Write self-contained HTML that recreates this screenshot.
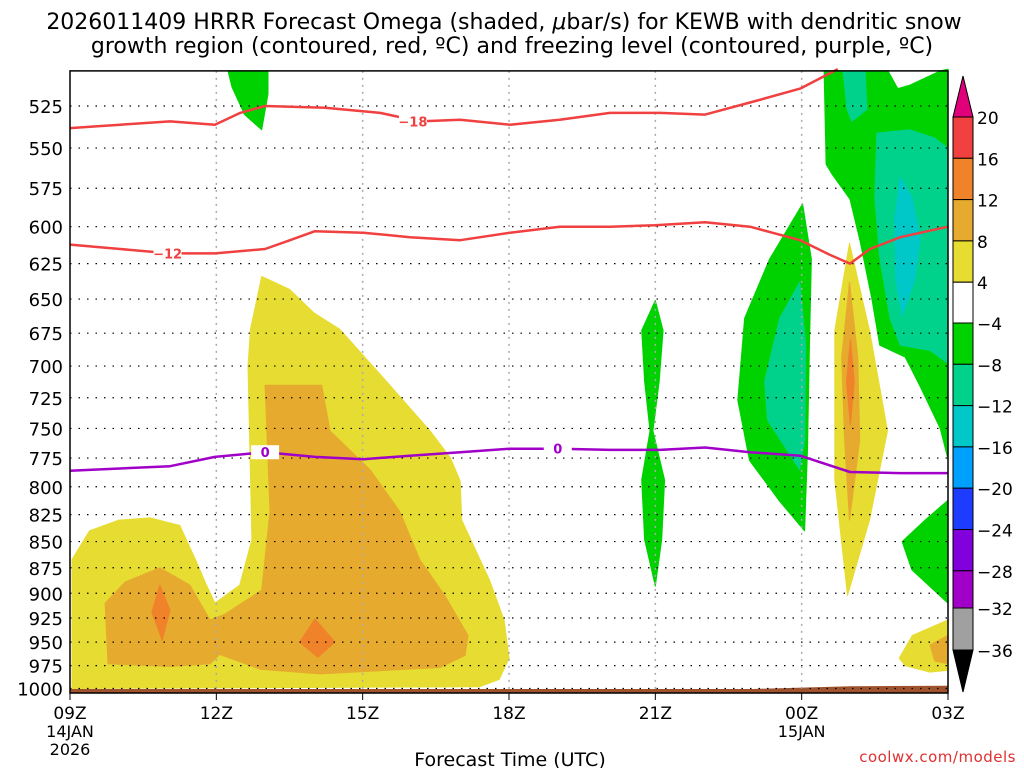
<!DOCTYPE html>
<html><head><meta charset="utf-8"><style>
body{margin:0;background:#fff;}
svg{display:block;font-family:"DejaVu Sans","Liberation Sans",sans-serif;}
</style></head><body>
<svg id="c" width="1024" height="768" xmlns="http://www.w3.org/2000/svg">
<text x="504" y="29" text-anchor="middle" font-size="22">2026011409 HRRR Forecast Omega (shaded, <tspan font-style="italic">μ</tspan>bar/s) for KEWB with dendritic snow</text>
<text x="512" y="53" text-anchor="middle" font-size="22">growth region (contoured, red, ºC) and freezing level (contoured, purple, ºC)</text>
<g id="fills"></g><g id="grid"></g><g id="lines"></g><g id="axes"></g><g id="cbar"></g>
<text x="510" y="766" text-anchor="middle" font-size="19">Forecast Time (UTC)</text>
<text x="1016" y="762" text-anchor="end" font-size="15" fill="#e03030" letter-spacing="0.5">coolwx.com/models</text>
</svg>
<script>
const pLevels=[525,550,575,600,625,650,675,700,725,750,775,800,825,850,875,900,925,950,975,1000];
const xTickHours=[0,3,6,9,12,15,18];
const xTickLabels=["09Z","12Z","15Z","18Z","21Z","00Z","03Z"];
const cbLevels=[20,16,12,8,4,-4,-8,-12,-16,-20,-24,-28,-32,-36];
const cbColors=["#f04040","#f0822a","#e6aa2e","#e6dc32","#ffffff","#00d200","#00d28c","#00c8c8","#00a0ff","#1e3cff","#8200dc","#a000c8","#a0a0a0"];
const yellowLeft=[[0.04,1000],[0.04,867],[0.4,840],[1.0,830],[1.64,828],[2.25,835],[2.6,870],[2.77,889],[2.97,910],[3.48,892],[3.73,848],[3.65,700],[3.7,672],[3.93,634],[4.5,643],[5.0,660],[5.53,672],[6.35,706],[7.38,752],[7.8,775],[8,795],[8.03,830],[8.6,887],[8.9,927],[9.0,967],[8.8,990],[8.4,998]];
const orangeLeft=[[0.78,973],[0.72,910],[1.13,889],[1.84,875],[2.46,892],[2.87,927],[3.18,921],[3.93,897],[4.1,822],[4.0,715],[5.16,715],[5.33,752],[6.15,785],[6.76,822],[7.17,867],[7.68,902],[8.16,943],[8.1,964],[7.58,977],[5.12,984],[3.9,979],[3.07,963],[2.87,973],[2.05,976]];
const redSpot1=[[1.84,892],[2.05,917],[1.89,948],[1.68,919]];
const redSpot2=[[5.02,926],[5.43,950],[5.08,966],[4.71,950]];
const greenTop=[[3.24,505],[4.06,505],[4.06,518],[3.93,539],[3.58,530],[3.32,514]];
const green21=[[12,651],[12.16,673],[12.08,712],[11.95,752],[12.19,794],[12.13,848],[12,893],[11.78,848],[11.72,794],[11.89,752],[11.78,712],[11.72,673]];
const greenMid=[[15.02,585],[15.2,622],[15.16,683],[15.12,768],[15.06,840],[14.55,813],[13.93,777],[13.69,727],[13.83,664],[14.34,622]];
const tealMid=[[14.96,638],[15.08,683],[15.06,760],[14.96,785],[14.3,743],[14.24,712],[14.55,664]];
const yellow01=[[15.98,611],[16.39,673],[16.76,752],[16.39,830],[15.94,902],[15.68,794],[15.68,673]];
const orange01=[[15.98,638],[16.15,693],[16.19,760],[15.98,830],[15.88,760],[15.82,693]];
const red01=[[16.0,680],[16.08,712],[16.0,747],[15.92,712]];
const greenRight=[[15.46,505],[16.77,505],[16.97,515],[17.22,513],[17.84,505],[18,504],[18,776],[17.84,750],[17.43,716],[17.12,693],[16.6,684],[16.44,650],[16.2,610],[15.99,582],[15.62,566],[15.5,560]];
const tealRightTop=[[15.85,505],[16.3,505],[16.34,527],[16.03,534],[15.93,527]];
const tealRight=[[16.54,541],[16.5,581],[16.6,621],[16.81,664],[17.02,684],[17.63,688],[18,698],[18,550],[17.73,544],[17.22,539]];
const cyanRight=[[17.02,568],[17.26,581],[17.43,607],[17.32,636],[17.06,662],[16.93,636],[16.91,595]];
const greenLow=[[18,812],[17.53,830],[17.06,850],[17.26,877],[18,910]];
const yellowBR=[[17.0,967],[17.27,943],[18,927],[18,980],[17.63,982],[17.12,975]];
const orangeBR=[[17.63,953],[18,943],[18,973],[17.73,970]];
const surfHours=[0,3,6,9,12,14,15,16,18];
const surfP=[1000.5,1000.5,1000.5,1000.5,1000.5,1000.5,999,997.5,997];
const red18H=[0,1.03,2.05,2.97,3.49,4,5.23,6.36,7.17,8,9.02,10.04,11.07,12.1,13.02,13.94,14.97,15.74];
const red18P=[538,536,534,536,529,525,526,529,534,533,536,533,529,529,530,523,515,504];
const red12H=[0,1.03,2.05,2.97,4,4.51,5.02,6.01,6.97,8,9.02,10.04,11.07,11.99,13.02,13.94,14.97,15.58,15.99,16.4,17.02,18];
const red12P=[612,615,618,618,615,609,603,604,607,609,604,600,600,599,597,600,609,619,625,615,607,600];
const frzH=[0,2.05,2.97,4,5.02,6.01,6.97,8,9.02,10.04,11.07,12.1,13.02,13.94,14.97,15.99,17.02,18];
const frzP=[786,782,774,770,774,776,773,770,767,767,768,768,766,770,773,787,788,788];

const NS="http://www.w3.org/2000/svg";
const X0=70,X1=948,PT=505,PB=1005,Y106=106,K=904;
const xs=h=>X0+(X1-X0)*h/18;
const ys=p=>Y106+K*Math.log(p/525);
function el(tag,attrs,parent){const e=document.createElementNS(NS,tag);for(const k in attrs)e.setAttribute(k,attrs[k]);parent.appendChild(e);return e;}
const fills=document.getElementById('fills'),grid=document.getElementById('grid'),lines=document.getElementById('lines'),axes=document.getElementById('axes'),cbar=document.getElementById('cbar');
function poly(pts,color,name){const e=el('polygon',{points:pts.map(q=>xs(q[0]).toFixed(1)+','+ys(q[1]).toFixed(1)).join(' '),fill:color,stroke:color,'stroke-width':1,'stroke-linejoin':'round'},fills);

}
poly(yellowLeft,'#e6dc32','omega-pos4-left');
poly(orangeLeft,'#e6aa2e','omega-pos8-left');
poly(redSpot1,'#f0822a','omega-pos12-spot1');
poly(redSpot2,'#f0822a','omega-pos12-spot2');
poly(greenTop,'#00d200','omega-neg4-top');
poly(green21,'#00d200','omega-neg4-21z');
poly(greenMid,'#00d200','omega-neg4-mid');
poly(tealMid,'#00d28c','omega-neg8-mid');
poly(yellow01,'#e6dc32','omega-pos4-01z');
poly(orange01,'#e6aa2e','omega-pos8-01z');
poly(red01,'#f0822a','omega-pos12-01z');
poly(greenRight,'#00d200','omega-neg4-right');
poly(tealRightTop,'#00d28c','omega-neg8-right-top');
poly(tealRight,'#00d28c','omega-neg8-right');
poly(cyanRight,'#00c8c8','omega-neg12-right');
poly(greenLow,'#00d200','omega-neg4-low');
poly(yellowBR,'#e6dc32','omega-pos4-bottom-right');
poly(orangeBR,'#e6aa2e','omega-pos8-bottom-right');
{const pts=surfHours.map((h,i)=>xs(h)+','+ys(surfP[i]));pts.push(X1+','+ys(PB),X0+','+ys(PB));
const g=el('polygon',{points:pts.join(' '),fill:'#a0522d'},fills);

}
pLevels.forEach(p=>{const l=el('line',{x1:X0,x2:X1,y1:ys(p),y2:ys(p),stroke:'#000','stroke-width':1.2,'stroke-dasharray':'1.5 7'},grid);


const t=el('text',{x:63,y:ys(p)+7,'text-anchor':'end','font-size':18},axes);t.textContent=p;

});
xTickHours.forEach((h,i)=>{if(h>0&&h<18){const l=el('line',{x1:xs(h),x2:xs(h),y1:ys(PT),y2:ys(PB),stroke:'#aaa','stroke-width':1.5,'stroke-dasharray':'2 5'},grid);

}
el('line',{x1:xs(h),x2:xs(h),y1:ys(PB),y2:ys(PB)+7,stroke:'#000'},axes);
const t=el('text',{x:xs(h),y:719,'text-anchor':'middle','font-size':17},axes);t.textContent=xTickLabels[i];

});
[["14JAN",xs(0),737],["2026",xs(0),755],["15JAN",xs(15),737]].forEach(d=>{const t=el('text',{x:d[1],y:d[2],'text-anchor':'middle','font-size':16},axes);t.textContent=d[0];

});
function line(H,P,color,name){const e=el('polyline',{points:H.map((h,i)=>xs(h).toFixed(1)+','+ys(P[i]).toFixed(1)).join(' '),fill:'none',stroke:color,'stroke-width':2.5,'stroke-linejoin':'round'},lines);

}
line(red18H,red18P,'#f04040','contour-minus18');
line(red12H,red12P,'#f04040','contour-minus12');
line(frzH,frzP,'#a000c8','freezing-level');
function lab(h,p,txt,color,name){el('rect',{x:xs(h)-14,y:ys(p)-7,width:28,height:14,fill:'#fff'},lines);
const t=el('text',{x:xs(h),y:ys(p)+5,'text-anchor':'middle','font-size':13,'font-weight':'bold',fill:color},lines);t.textContent=txt;

}
lab(7.03,534,'−18','#f04040','label-minus18');
lab(2.0,618,'−12','#f04040','label-minus12');
lab(4.0,770,'0','#a000c8','label-freezing-1');
lab(10.0,767,'0','#a000c8','label-freezing-2');
{const f=el('rect',{x:X0,y:ys(PT),width:X1-X0,height:ys(PB)-ys(PT),fill:'none',stroke:'#000','stroke-width':1.5},axes);

}
const CB0=953,CBW=20;
const cbY=cbLevels.map((v,i)=>i<=4?117+i*41.3:(i<=11?323+(i-5)*41.3:(i==12?608:650)));
for(let i=0;i<cbColors.length;i++){const r=el('rect',{x:CB0,y:cbY[i],width:CBW,height:cbY[i+1]-cbY[i],fill:cbColors[i],stroke:'#000','stroke-width':1},cbar);

}
cbLevels.forEach((v,i)=>{const t=el('text',{x:977,y:cbY[i]+7,'font-size':17},cbar);t.textContent=v<0?'−'+(-v):v;

});
{const a=el('polygon',{points:`${CB0},117 ${CB0+CBW},117 ${CB0+CBW/2},76`,fill:'#e0007a',stroke:'#000'},cbar);


const b=el('polygon',{points:`${CB0},650 ${CB0+CBW},650 ${CB0+CBW/2},692`,fill:'#000',stroke:'#000'},cbar);

}
</script>
</body></html>
